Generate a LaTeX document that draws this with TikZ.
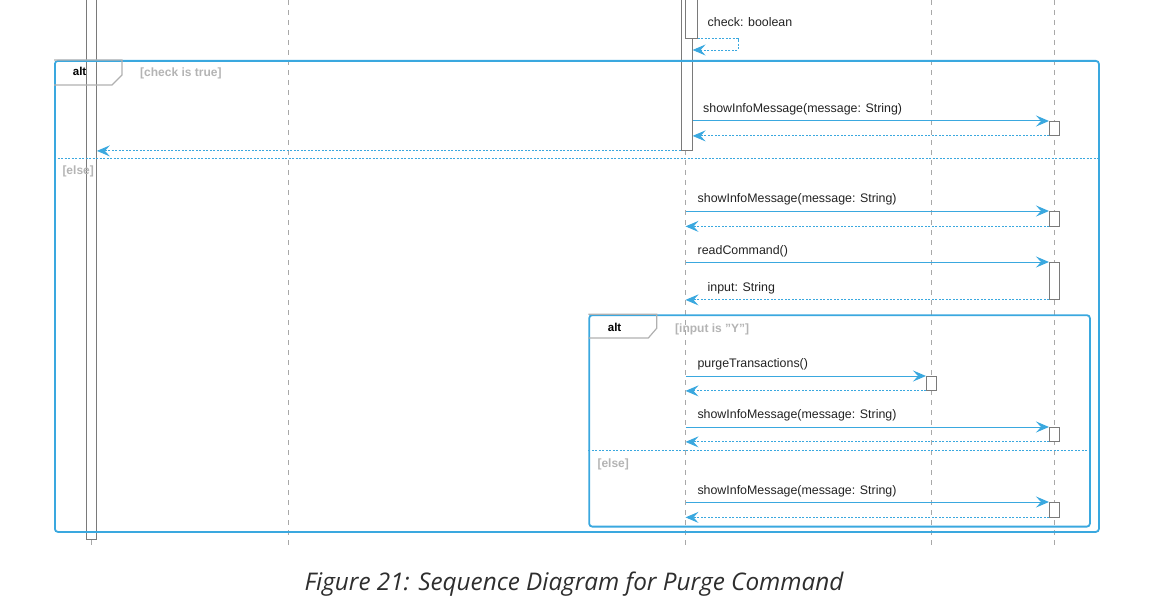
\documentclass[tikz,border=0pt]{standalone}
\usepackage{fontspec}
\setmainfont{Liberation Sans}
\newfontfamily\capfont{Open Sans}
\usetikzlibrary{arrows.meta}
\definecolor{seqblue}{HTML}{3AA8DF}
\definecolor{bargrey}{HTML}{7A7A7A}
\definecolor{lifegrey}{HTML}{A8A8A8}
\definecolor{guardgrey}{HTML}{B4B4B4}
\definecolor{tabgrey}{HTML}{B0B0B0}
\definecolor{capgrey}{HTML}{2E2E2E}
\definecolor{txt}{HTML}{222222}
\tikzset{
  lifeline/.style={draw=lifegrey, line width=0.8pt, dash pattern=on 5pt off 5pt},
  actbar/.style={draw=bargrey, fill=white, line width=0.9pt, inner sep=0pt, minimum width=10pt},
  tipstyle/.style={-{Stealth[length=13pt,width=11pt,inset=5pt]}},
  msg/.style={draw=seqblue, line width=1pt, tipstyle},
  ret/.style={draw=seqblue, line width=0.9pt, dash pattern=on 2pt off 1.5pt, tipstyle},
  frame/.style={draw=seqblue, line width=1.8pt, rounded corners=3pt, inner sep=0pt},
  divider/.style={draw=seqblue, line width=0.9pt, dash pattern=on 2pt off 1.5pt},
  tab/.style={draw=tabgrey, line width=1.2pt},
  msglabel/.style={anchor=base west, inner sep=0pt, text=txt, font=\fontsize{12.4}{14}\selectfont},
  guard/.style={anchor=base west, inner sep=0pt, text=guardgrey, font=\bfseries\fontsize{12}{14}\selectfont},
  altlabel/.style={anchor=base west, inner sep=0pt, text=black, font=\bfseries\fontsize{11.5}{14}\selectfont},
}
\begin{document}
\begin{tikzpicture}[x=1pt,y=-1pt]
\useasboundingbox (0,0) rectangle (1149,615);

% lifeline anchors
\coordinate (L1) at (91,0);
\coordinate (L2) at (288,0);
\coordinate (L3) at (685.5,0);
\coordinate (L4) at (931,0);
\coordinate (L5) at (1054,0);
\coordinate (E) at (0,548);

% lifelines
\draw[lifeline] (L2) -- (L2 |- E);
\draw[lifeline] (L4) -- (L4 |- E);
\draw[lifeline] (L5) -- (L5 |- E);
\draw[lifeline] (L3) -- (L3 |- E);

% activation bars
\node[actbar, anchor=north west, minimum height=541pt] (A1) at (86,-2) {};
\draw[lifeline] (A1.south) -- (A1.south |- E);
\node[actbar, anchor=north west, minimum width=11pt, minimum height=152pt] (A3) at (680.7,-2) {};
\node[actbar, anchor=north west, minimum width=11.7pt, minimum height=39.7pt] (A3i) at (685,-2) {};

\node[actbar, anchor=north west, minimum height=14pt] (B1) at (1049,121) {};
\node[actbar, anchor=north west, minimum height=14.5pt] (B2) at (1049,211) {};
\node[actbar, anchor=north west, minimum height=37pt] (B3) at (1049,262) {};
\node[actbar, anchor=north west, minimum height=14pt] (B4) at (926,376) {};
\node[actbar, anchor=north west, minimum height=14pt] (B5) at (1049,427) {};
\node[actbar, anchor=north west, minimum height=14.5pt] (B6) at (1049,502) {};

% frames
\node[frame, anchor=north west, minimum width=1044pt, minimum height=471pt] (F1) at (54,60) {};
\draw[tab] (F1.north west) -- ++(68,0) -- ++(0,15) -- ++(-10,10) -- (54,85);
\node[altlabel] (alt1) at (72.7,76) {alt};
\node[guard] (g1) at (140,77) {[check is true]};
\draw[divider] (F1.west |- 0,158) -- (F1.east |- 0,158);
\node[guard] (g2) at (62.3,175) {[else]};

\node[frame, anchor=north west, minimum width=500.7pt, minimum height=211.4pt] (F2) at (588.3,314.3) {};
\draw[tab] (F2.north west) -- ++(68.4,0) -- ++(0,14) -- ++(-8.4,9.7) -- (588.3,338);
\node[altlabel] (alt2) at (607.7,331) {alt};
\node[guard] (g3) at (675,332) {[input is "Y"]};
\draw[divider] (F2.west |- 0,450) -- (F2.east |- 0,450);
\node[guard] (g4) at (597.3,467) {[else]};

% self message return
\coordinate (chk) at (738,50);
\node[msglabel] (m0) at (707.5,27) {check: boolean};
\draw[ret] (A3i.south east) -| (chk) -- (A3.east |- chk);

% alt: check is true
\node[msglabel] (m1) at (703,113) {showInfoMessage(message: String)};
\draw[msg] (A3.east |- B1.north west) -- (B1.north west);
\draw[ret] (B1.south west) -- (A3.east |- B1.south west);
\draw[ret] (A3.south west) -- (A1.east |- A3.south west);

% else
\node[msglabel] (m2) at (697.5,203) {showInfoMessage(message: String)};
\draw[msg] (L3 |- B2.north west) -- (B2.north west);
\draw[ret] (B2.south west) -- (L3 |- B2.south west);

\node[msglabel] (m3) at (697.5,254) {readCommand()};
\draw[msg] (L3 |- B3.north west) -- (B3.north west);
\node[msglabel] (m4) at (707.5,291) {input: String};
\draw[ret] (B3.south west) -- (L3 |- B3.south west);

% inner alt
\node[msglabel] (m5) at (697.3,367) {purgeTransactions()};
\draw[msg] (L3 |- B4.north west) -- (B4.north west);
\draw[ret] (B4.south west) -- (L3 |- B4.south west);

\node[msglabel] (m6) at (697.3,418) {showInfoMessage(message: String)};
\draw[msg] (L3 |- B5.north west) -- (B5.north west);
\draw[ret] (B5.south west) -- (L3 |- B5.south west);

\node[msglabel] (m7) at (697.3,494) {showInfoMessage(message: String)};
\draw[msg] (L3 |- B6.north west) -- (B6.north west);
\draw[ret] (B6.south west) -- (L3 |- B6.south west);

% caption
\node[anchor=base, inner sep=0pt, text=capgrey, font=\capfont\itshape\fontsize{24.3}{29}\selectfont] (cap) at (574,590) {Figure 21: Sequence Diagram for Purge Command};
\end{tikzpicture}
\end{document}
